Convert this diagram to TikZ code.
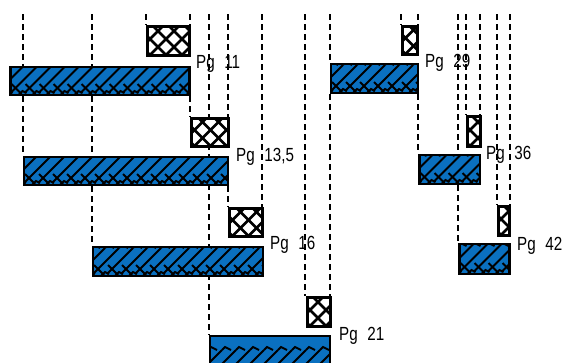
\documentclass[tikz,border=0pt]{standalone}
\usepackage{fontspec}
\usepackage{graphicx}
\setmainfont{Liberation Sans}
\usetikzlibrary{fit,calc,backgrounds}
\definecolor{barblue}{RGB}{10,112,192}
\newcommand{\pglabel}[1]{\scalebox{0.8}[1]{\fontsize{19}{19}\selectfont #1}}
\begin{document}
\begin{tikzpicture}[x=1pt,y=-1pt,
  guide/.style={line width=1.8pt, dash pattern=on 6pt off 4pt},
  hatchbox/.style={draw, line width=3pt, fill=white, inner sep=0pt,
    path picture={
      \foreach \i in {-4,...,8} {
        \draw[line width=2.8pt] ($(path picture bounding box.south west)+(\i*16pt+3pt,0pt)$) -- ++(50pt,50pt);
        \draw[line width=2.8pt] ($(path picture bounding box.south west)+(\i*16pt+3pt,0pt)$) -- ++(-50pt,50pt);
      }}},
  barbox/.style={draw, line width=2.6pt, fill=barblue, inner sep=0pt,
    path picture={
      \foreach \i in {-3,...,16} {
        \draw[line width=2pt] ($(path picture bounding box.south west)+(\i*14pt,2pt)$) -- ++(26pt,26pt);
        \draw[line width=2pt] ($(path picture bounding box.south west)+(\i*14pt-6pt,0pt)$) -- ++(4pt,4pt) -- ++(4pt,-2pt);
        \draw[line width=1.8pt] ($(path picture bounding box.south west)+(\i*14pt+1pt,11pt)$) -- ++(10pt,-10pt);
        \draw[line width=2pt] ($(path picture bounding box.south west)+(\i*14pt+26pt,28pt)$) -- ++(3pt,3pt) -- ++(6pt,-3pt);
      }}},
  pg/.style={anchor=base west, inner sep=0pt}
]
\useasboundingbox (0,0) rectangle (563,362);

% bars
\node[barbox, fit={(10.5,67) (189.5,95)}] (b1) {};
\node[barbox, fit={(24,157) (228,185)}] (b2) {};
\node[barbox, fit={(93,247) (263,276)}] (b3) {};
\node[barbox, fit={(210,336) (330,378)}] (b4) {};
\node[barbox, fit={(331,64) (418,93)}] (b5) {};
\node[barbox, fit={(419.5,155) (480,184)}] (b6) {};
\node[barbox, fit={(459.5,244) (509.5,274)}] (b7) {};

% hatched boxes
\node[hatchbox, fit={(147,26.5) (189.5,55)}] (x1) {};
\node[hatchbox, fit={(191.5,118.5) (228,146)}] (x2) {};
\node[hatchbox, fit={(229.5,208.5) (262,236)}] (x3) {};
\node[hatchbox, fit={(307,297.5) (330.5,326)}] (x4) {};
\node[hatchbox, fit={(402.5,26.5) (417.5,54)}] (x5) {};
\node[hatchbox, fit={(467,116.5) (480,146)}] (x6) {};
\node[hatchbox, fit={(498,206.5) (509.5,235)}] (x7) {};

% labels
\node[pg] (l1) at (196,68.5) {\pglabel{Pg\hspace{12pt}11}};
\node[pg] (l2) at (236,161) {\pglabel{Pg\hspace{12pt}13,5}};
\node[pg] (l3) at (270,249.5) {\pglabel{Pg\hspace{12pt}16}};
\node[pg] (l4) at (339,340) {\pglabel{Pg\hspace{12pt}21}};
\node[pg] (l5) at (425,67) {\pglabel{Pg\hspace{12pt}29}};
\node[pg] (l6) at (486,159.5) {\pglabel{Pg\hspace{12pt}36}};
\node[pg] (l7) at (517,250) {\pglabel{Pg\hspace{12pt}42}};

% guide lines
\coordinate (g1) at (23,14);
\coordinate (g2) at (92,14);
\coordinate (g3) at (146,14);
\coordinate (g4) at (190,14);
\coordinate (g5) at (209,14);
\coordinate (g6) at (228,14);
\coordinate (g7) at (262,14);
\coordinate (g8) at (305,14);
\coordinate (g9) at (330,14);
\coordinate (g10) at (401,14);
\coordinate (g11) at (418,14);
\coordinate (g12) at (458,14);
\coordinate (g13) at (466,14);
\coordinate (g14) at (480,14);
\coordinate (g15) at (497,14);
\coordinate (g16) at (510,14);

\begin{scope}[on background layer]
\draw[guide] (g1) -- (g1 |- b1.north);
\draw[guide] (g1 |- b1.south) -- (g1 |- b2.north);
\draw[guide] (g2) -- (g2 |- b1.north);
\draw[guide] (g2 |- b1.south) -- (g2 |- b3.north);
\draw[guide] (g3) -- (g3 |- x1.north);
\draw[guide] (g4) -- (g4 |- x1.north);
\draw[guide] (g4 |- b1.south) -- (g4 |- x2.north);
\draw[guide] (g5) -- (g5 |- b4.north);
\draw[guide] (g6) -- (g6 |- x2.north);
\draw[guide] (g6 |- b2.south) -- (g6 |- x3.north);
\draw[guide] (g7) -- (g7 |- x3.north);
\draw[guide] (g8) -- (g8 |- x4.north);
\draw[guide] (g9) -- (g9 |- b5.north);
\draw[guide] (g9 |- b5.south) -- (g9 |- x4.north);
\draw[guide] (g10) -- (g10 |- x5.north);
\draw[guide] (g11) -- (g11 |- x5.north);
\draw[guide] (g11 |- b5.south) -- (g11 |- b6.north);
\draw[guide] (g12) -- (g12 |- b6.north);
\draw[guide] (g12 |- b6.south) -- (g12 |- b7.north);
\draw[guide] (g13) -- (g13 |- x6.north);
\draw[guide] (g14) -- (g14 |- x6.north);
\draw[guide] (g15) -- (g15 |- x7.north);
\draw[guide] (g16) -- (g16 |- x7.north);
\end{scope}
\end{tikzpicture}
\end{document}
